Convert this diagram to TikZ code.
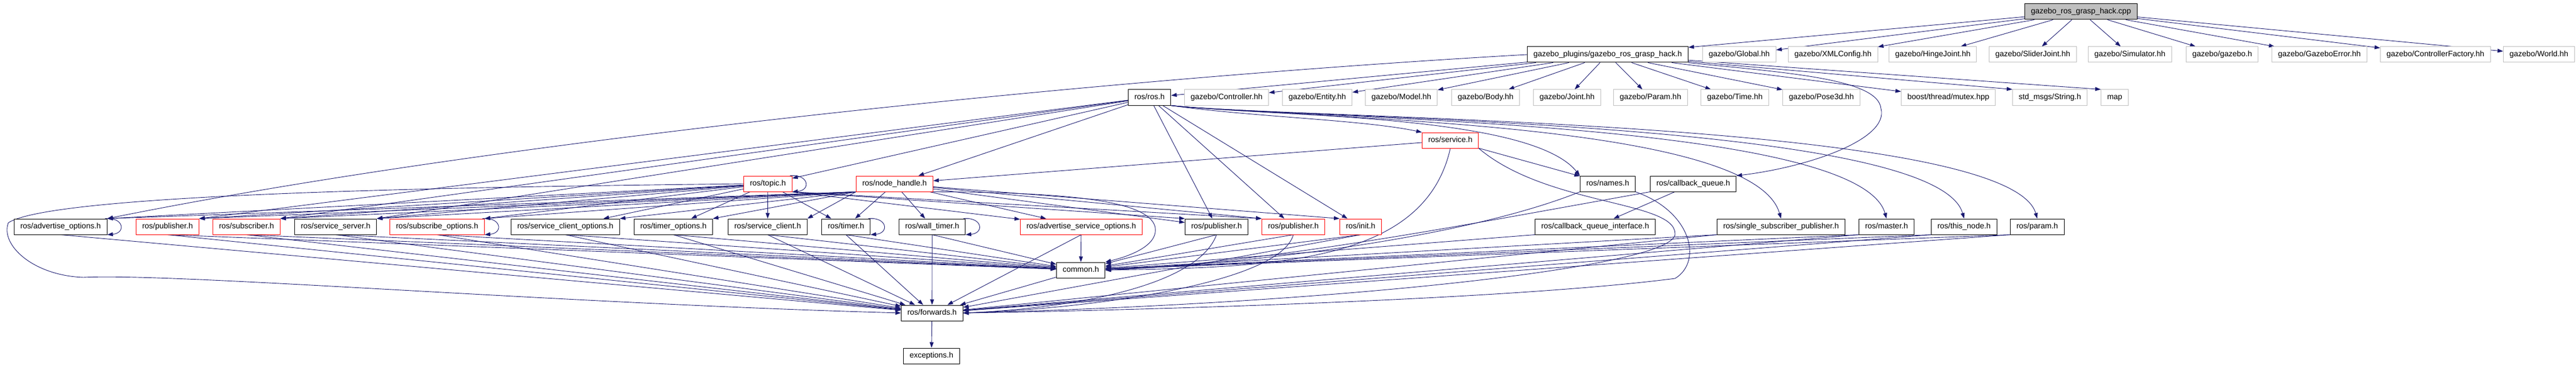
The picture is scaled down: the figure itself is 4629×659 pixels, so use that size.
\documentclass[tikz,border=0pt]{standalone}
\usepackage{fontspec}
\setmainfont{Liberation Sans}
\usetikzlibrary{arrows.meta,calc}
\definecolor{edgec}{HTML}{191970}
\definecolor{greyb}{HTML}{BFBFBF}
\definecolor{redb}{HTML}{FF0000}
\pgfdeclarelayer{bg}
\pgfdeclarelayer{paper}
\pgfsetlayers{paper,bg,main}
\newcommand\sloop[1]{\draw[dep] ([xshift=-4bp]#1.north east) .. controls +(34,-3) and +(34,-3) .. (#1.south east);}
\begin{document}
\begin{tikzpicture}[x=1bp,y=-1bp,
  box/.style={rectangle,draw=black,fill=white,line width=1bp,minimum height=28bp,inner xsep=11bp,inner ysep=0bp,text height=10bp,text depth=3bp,anchor=west,font=\fontsize{14bp}{16bp}\selectfont},
  gbox/.style={box,draw=greyb},
  rbox/.style={box,draw=redb},
  dep/.style={draw=edgec,line width=0.9bp,-{Triangle[length=10bp,width=7bp]}},
]
\useasboundingbox (0,0) rectangle (4629,659);
\begin{pgfonlayer}{paper}
\fill[white] (0,0) rectangle (4629,659);
\end{pgfonlayer}
% row 0
\node[box,fill=greyb] (root) at (3638,21) {gazebo\_ros\_grasp\_hack.cpp};
% row 1
\node[box] (ghh) at (2744,98) {gazebo\_plugins/gazebo\_ros\_grasp\_hack.h};
\node[gbox] (Global) at (3059,98) {gazebo/Global.hh};
\node[gbox] (XMLConfig) at (3213,98) {gazebo/XMLConfig.hh};
\node[gbox] (HingeJoint) at (3394,98) {gazebo/HingeJoint.hh};
\node[gbox] (SliderJoint) at (3574,98) {gazebo/SliderJoint.hh};
\node[gbox] (Simulator) at (3752,98) {gazebo/Simulator.hh};
\node[gbox] (gazeboh) at (3928,98) {gazebo/gazebo.h};
\node[gbox] (GazeboError) at (4082,98) {gazebo/GazeboError.hh};
\node[gbox] (ControllerFactory) at (4277,98) {gazebo/ControllerFactory.hh};
\node[gbox] (World) at (4498,98) {gazebo/World.hh};
% row 2
\node[box] (ros) at (2027,175) {ros/ros.h};
\node[gbox] (Controller) at (2128,175) {gazebo/Controller.hh};
\node[gbox] (Entity) at (2304,175) {gazebo/Entity.hh};
\node[gbox] (Model) at (2453,175) {gazebo/Model.hh};
\node[gbox] (Body) at (2608,175) {gazebo/Body.hh};
\node[gbox] (Joint) at (2755,175) {gazebo/Joint.hh};
\node[gbox] (Param) at (2899,175) {gazebo/Param.hh};
\node[gbox] (Time) at (3056,175) {gazebo/Time.hh};
\node[gbox] (Pose3d) at (3203,175) {gazebo/Pose3d.hh};
\node[gbox] (mutex) at (3416,175) {boost/thread/mutex.hpp};
\node[gbox] (String) at (3616,175) {std\_msgs/String.h};
\node[gbox] (map) at (3775,175) {map};
% row 3
\node[rbox] (service) at (2555,252) {ros/service.h};
% row 4
\node[rbox] (topic) at (1336,330) {ros/topic.h};
\node[rbox] (nh) at (1538,330) {ros/node\_handle.h};
\node[box] (names) at (2839,330) {ros/names.h};
\node[box] (cbq) at (2965,330) {ros/callback\_queue.h};
% row 5
\node[box] (advopt) at (25,407) {ros/advertise\_options.h};
\node[rbox] (pubA) at (244,407) {ros/publisher.h};
\node[rbox] (sub) at (382,407) {ros/subscriber.h};
\node[box] (srvserver) at (529,407) {ros/service\_server.h};
\node[rbox] (subopt) at (700,407) {ros/subscribe\_options.h};
\node[box] (scopt) at (918,407) {ros/service\_client\_options.h};
\node[box] (timeropt) at (1139,407) {ros/timer\_options.h};
\node[box] (sclient) at (1308,407) {ros/service\_client.h};
\node[box] (timer) at (1476,407) {ros/timer.h};
\node[box] (wtimer) at (1615,407) {ros/wall\_timer.h};
\node[rbox] (asopt) at (1833,407) {ros/advertise\_service\_options.h};
\node[box] (pubB) at (2129,407) {ros/publisher.h};
\node[rbox] (pubC) at (2267,407) {ros/publisher.h};
\node[rbox] (init) at (2407,407) {ros/init.h};
\node[box] (cbqi) at (2758,407) {ros/callback\_queue\_interface.h};
\node[box] (ssp) at (3085,407) {ros/single\_subscriber\_publisher.h};
\node[box] (master) at (3340,407) {ros/master.h};
\node[box] (thisnode) at (3470,407) {ros/this\_node.h};
\node[box] (param) at (3612,407) {ros/param.h};
% rows 6-8
\node[box] (common) at (1898,485) {common.h};
\node[box] (forwards) at (1619,562) {ros/forwards.h};
\node[box] (exceptions) at (1623,639) {exceptions.h};

\begin{pgfonlayer}{bg}
% root
\foreach \t in {ghh,Global,XMLConfig,HingeJoint,SliderJoint,Simulator,gazeboh,GazeboError,ControllerFactory,World}{\draw[dep] (root) -- (\t);}
% grasp hack header
\foreach \t in {ros,Controller,Entity,Model,Body,Joint,Param,Time,Pose3d,mutex}{\draw[dep] (ghh) -- (\t);}
\draw[dep] (ghh) -- (String.north west);
\draw[dep] (ghh) -- (map.north west);
\draw[dep] (ghh.west) .. controls (2000,140) and (900,250) .. (advopt.north east);
\draw[dep] (ghh.south east) .. controls (3200,130) and (3375,140) .. (3380,195) .. controls (3395,250) and (3250,300) .. (cbq.north east);
% ros.h
\draw[dep] (ros) -- (topic);
\draw[dep] (ros) -- (nh);
\foreach \t in {pubA,sub,srvserver}{\draw[dep] (ros) -- (\t.north east);}
\draw[dep] (ros) -- (pubB);
\draw[dep] (ros) -- (pubC);
\draw[dep] (ros) -- (init);
\draw[dep] (ros.south east) .. controls (2250,210) and (2450,215) .. (service.north west);
\draw[dep] (ros.south east) .. controls (2300,210) and (2750,205) .. (names.north west);
\draw[dep] (ros.south east) .. controls (2350,215) and (3150,215) .. (ssp.north);
\draw[dep] (ros.south east) .. controls (2350,215) and (3340,215) .. (master.north);
\draw[dep] (ros.south east) .. controls (2350,215) and (3480,215) .. (thisnode.north);
\draw[dep] (ros.south east) .. controls (2350,215) and (3610,215) .. (param.north);
% service.h
\draw[dep] (service) -- (nh);
\draw[dep] (service) -- (names);
\draw[dep] (service.south) .. controls (2560,470) and (2300,480) .. (common.east);
\draw[dep] (service.south east) .. controls (2780,370) and (3010,360) .. (3010,420) .. controls (3010,480) and (2400,545) .. (forwards.east);
% names, callback queue
\draw[dep] (names.south west) .. controls (2650,420) and (2300,470) .. (common.east);
\draw[dep] (names.south east) .. controls (3040,380) and (3060,470) .. (3010,500) .. controls (2700,540) and (2000,558) .. (forwards.east);
\draw[dep] (cbq) -- (cbqi);
\draw[dep] (cbq.south west) .. controls (2650,400) and (2300,470) .. (common.east);
% topic.h
\sloop{topic}
\foreach \t in {advopt,pubA,sub,srvserver,subopt}{\draw[dep] (topic) -- (\t.north east);}
\foreach \t in {scopt,timeropt,sclient,timer}{\draw[dep] (topic) -- (\t);}
\draw[dep] (topic.south east) -- (asopt);
\draw[dep] (topic.south east) -- (pubB.north west);
\draw[dep] (topic.south east) -- (pubC.north west);
\draw[dep] (topic.west) .. controls (900,335) and (100,345) .. (15,400) .. controls (0,440) and (60,495) .. (150,498) .. controls (320,490) and (1000,545) .. (forwards.west);
% node_handle.h
\foreach \t in {advopt,pubA,sub,srvserver,subopt,scopt,timeropt,sclient}{\draw[dep] (nh.south west) -- (\t.north east);}
\foreach \t in {timer,wtimer,asopt,pubB}{\draw[dep] (nh) -- (\t);}
\draw[dep] (nh) -- (pubC.north west);
\draw[dep] (nh) -- (init.north west);
\draw[dep] (nh.south east) .. controls (1950,345) and (2060,365) .. (2075,405) .. controls (2085,440) and (2030,460) .. (common.north east);
% self loops
\sloop{advopt}
\sloop{subopt}
\sloop{timer}
\sloop{wtimer}
% row 5 to common.h
\foreach \t in {pubA,sub,srvserver,subopt,scopt,timeropt,sclient,timer,wtimer,pubB,pubC,init}{\draw[dep] (\t.south) -- (common);}
\draw[dep] (asopt) -- (common);
\draw[dep] (cbqi.south west) -- (common);
\foreach \t in {ssp,master,thisnode,param}{\draw[dep] (\t.south west) -- (common);}
% row 5 to forwards.h
\foreach \t in {advopt,pubA,sub,srvserver,subopt,scopt,timeropt,sclient,timer,wtimer,asopt,init}{\draw[dep] (\t.south) -- (forwards);}
\foreach \t in {ssp,master,thisnode,param}{\draw[dep] (\t.south west) -- (forwards);}
\draw[dep] (pubB.south) .. controls (2150,520) and (1900,555) .. (forwards.east);
\draw[dep] (pubC.south) .. controls (2300,510) and (1950,555) .. (forwards.east);
\draw[dep] (common) -- (forwards);
\draw[dep] (forwards) -- (exceptions);
\end{pgfonlayer}
\end{tikzpicture}
\end{document}
